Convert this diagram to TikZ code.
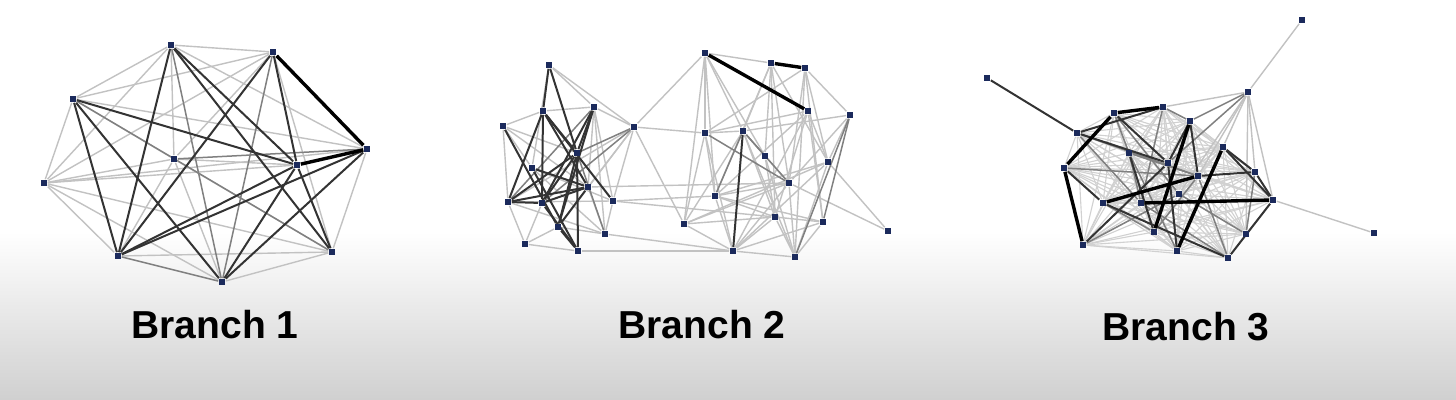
\documentclass[tikz,border=0pt]{standalone}
\usepackage{fontspec}
\setmainfont{Liberation Sans}
\definecolor{vnavy}{HTML}{1B2A5C}
\pgfdeclarelayer{edges}
\pgfsetlayers{edges,main}
\begin{document}
\begin{tikzpicture}[x=0.5pt,y=-0.5pt,
    vtx/.style={rectangle,fill=vnavy,minimum size=3.4pt,inner sep=0pt},
    we/.style={black!18,line width=0.55pt},
    wa/.style={black!24,line width=0.7pt},
    wb/.style={black!50,line width=0.75pt},
    wc/.style={black!80,line width=1pt},
    wd/.style={black,line width=1.7pt},
    title/.style={anchor=base,font=\bfseries\fontsize{19.5}{20}\selectfont}]
    \useasboundingbox (0,0) rectangle (1456,400);
    \foreach \n/\x/\y in {1/171/45, 2/273/52, 3/73/99, 4/174/159, 5/367/149,
        6/297/165, 7/44/183, 8/118/256, 9/332/252, 10/222/282}
        \node [vtx] (a\n) at (\x,\y) {};
    \foreach \n/\x/\y in {1/549/65, 2/705/53, 3/771/63, 4/805/68, 5/543/111,
        6/594/107, 7/503/126, 8/634/127, 9/705/133, 10/743/131, 11/808/111,
        12/850/115, 13/577/153, 14/532/168, 15/765/156, 16/828/162, 17/588/187,
        18/613/201, 19/508/202, 20/542/203, 21/789/183, 22/715/196, 23/558/227,
        24/605/234, 25/684/224, 26/775/217, 27/823/222, 28/888/231, 29/525/244,
        30/578/251, 31/733/251, 32/795/257}
        \node [vtx] (b\n) at (\x,\y) {};
    \foreach \n/\x/\y in {1/1302/20, 2/987/78, 3/1248/92, 4/1163/107, 5/1114/113,
        6/1190/121, 7/1077/133, 8/1223/147, 9/1129/153, 10/1168/163, 11/1064/168,
        12/1255/172, 13/1198/176, 14/1179/194, 15/1103/203, 16/1141/203,
        17/1273/200, 18/1154/232, 19/1246/234, 20/1374/233, 21/1083/245,
        22/1177/251, 23/1228/258}
        \node [vtx] (c\n) at (\x,\y) {};
    \begin{pgfonlayer}{edges}
    \fill [white] (0,0) rectangle (1456,400);
    \shade [top color=white, bottom color=gray!37] (0,232) rectangle (1456,400);
    \foreach \i/\j in {1/2,1/3,1/4,1/5,1/7,2/3,2/4,2/7,2/9,3/4,3/5,3/7,4/6,4/7,
        4/8,4/9,4/10,5/7,5/9,6/7,7/8,7/9,7/10,8/9,9/10}
        \draw [wa] (a\i) -- (a\j);
    \foreach \i/\j in {1/10,2/10,3/9,4/5,8/10}
        \draw [wb] (a\i) -- (a\j);
    \foreach \i/\j in {1/6,1/8,1/9,2/6,2/8,3/6,3/8,3/10,5/8,5/10,6/8,6/9,6/10}
        \draw [wc] (a\i) -- (a\j);
    \foreach \i/\j in {2/5,5/6}
        \draw [wd] (a\i) -- (a\j);
    \foreach \i/\j in {1/8,1/14,1/6,5/6,7/13,7/17,5/7,7/14,7/19,6/18,6/8,8/19,
        8/23,8/17,8/18,8/9,8/25,2/8,18/19,19/29,19/24,20/29,23/24,23/29,24/31,
        18/22,17/21,18/26,30/31,29/30,14/18,14/24,17/24,18/24,6/24,6/17,
        2/3,2/9,2/10,2/15,2/22,9/25,9/22,9/31,4/9,9/11,9/10,3/10,10/12,10/25,
        10/26,10/32,3/15,3/26,3/21,3/22,4/16,4/12,4/32,4/27,11/31,11/27,11/26,
        11/22,12/16,16/28,16/22,16/25,16/31,16/32,21/32,21/31,21/28,21/22,21/25,
        22/31,22/26,22/27,25/31,25/26,26/31,26/32,26/27,27/32,27/31,31/32,15/26,
        15/32,15/21,2/25,3/16,4/21,11/16,12/21}
        \draw [wa] (b\i) -- (b\j);
    \foreach \i/\j in {6/19,8/13,13/24,8/20,9/21,12/27,12/32,10/15,10/22,10/21}
        \draw [wb] (b\i) -- (b\j);
    \foreach \i/\j in {1/5,1/13,5/13,5/17,5/18,5/19,5/20,7/23,6/20,6/23,6/13,
        13/19,13/20,13/23,13/30,14/17,14/30,17/19,17/20,17/23,19/20,20/30,23/30,
        10/31}
        \draw [wc] (b\i) -- (b\j);
    \foreach \i/\j in {2/11,3/4}
        \draw [wd] (b\i) -- (b\j);
    \foreach \i in {4,...,23}
        \foreach \j in {\i,...,23}
            {\ifnum\i<\j \ifnum\i=20 \else \ifnum\j=20 \else
                \draw [we] (c\i) -- (c\j);
            \fi\fi\fi}
    \foreach \i/\j in {1/3,3/4,3/8,3/12,3/17,3/19,3/13,3/14,17/20}
        \draw [wa] (c\i) -- (c\j);
    \foreach \i/\j in {3/6,3/10,4/6,9/13,7/13,5/9,9/16,14/19,12/19,13/18,16/23,
        15/18,5/14,7/16,11/13,4/16,9/22,14/21,13/23}
        \draw [wb] (c\i) -- (c\j);
    \foreach \i/\j in {2/7,5/10,4/7,7/10,6/10,6/13,8/17,9/18,10/21,12/13,15/23,
        10/22,12/17,17/23,8/12,11/15}
        \draw [wc] (c\i) -- (c\j);
    \foreach \i/\j in {11/21,4/5,5/11,6/18,8/22,16/17,13/15}
        \draw [wd] (c\i) -- (c\j);
    \end{pgfonlayer}
    \node [title] (t1) at (215,339) {Branch 1};
    \node [title] (t2) at (702,339) {Branch 2};
    \node [title] (t3) at (1186,341) {Branch 3};
\end{tikzpicture}
\end{document}
